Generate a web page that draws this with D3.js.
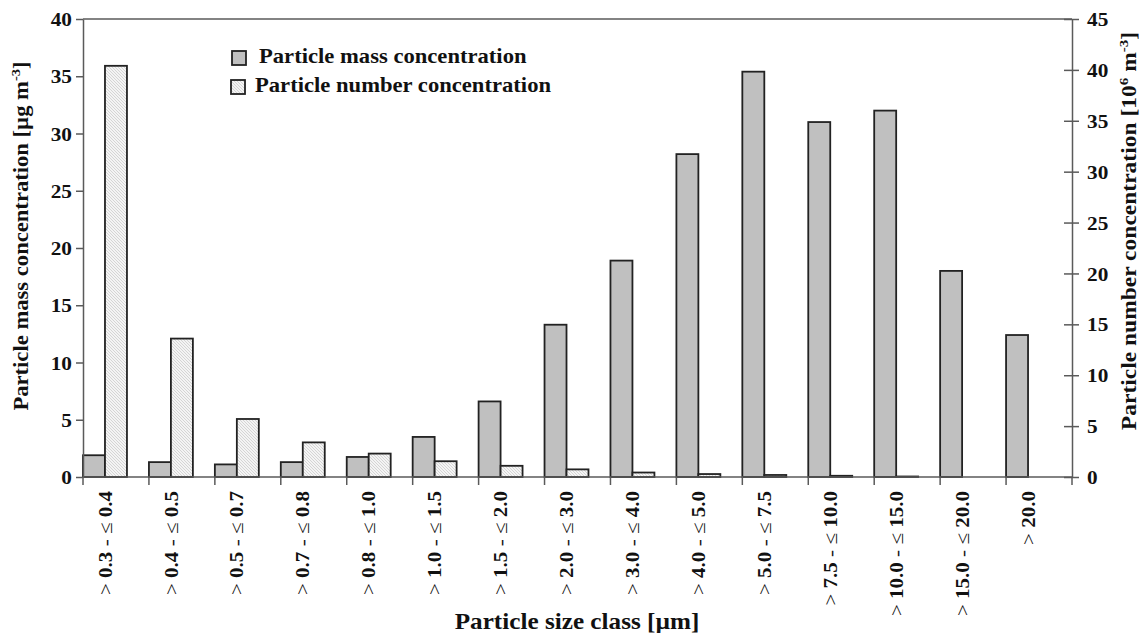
<!DOCTYPE html>
<html>
<head>
<meta charset="utf-8">
<script src="https://cdn.jsdelivr.net/npm/d3@7"></script>
<style>
  html, body { margin: 0; padding: 0; background: #fff; }
  svg { display: block; font-family: "Liberation Serif", "Times New Roman", serif; }
</style>
</head>
<body>
<svg id="chart" width="1143" height="633"></svg>
<script>
// Size classes (µm) and the two measured series
const categories = [
  ["0.3", "0.4"], ["0.4", "0.5"], ["0.5", "0.7"], ["0.7", "0.8"], ["0.8", "1.0"],
  ["1.0", "1.5"], ["1.5", "2.0"], ["2.0", "3.0"], ["3.0", "4.0"], ["4.0", "5.0"],
  ["5.0", "7.5"], ["7.5", "10.0"], ["10.0", "15.0"], ["15.0", "20.0"], ["20.0", null]
];
const massValues   = [1.9, 1.3, 1.1, 1.3, 1.75, 3.5, 6.6, 13.3, 18.9, 28.2, 35.4, 31.0, 32.0, 18.0, 12.4];
const numberValues = [40.4, 13.6, 5.7, 3.4, 2.3, 1.55, 1.1, 0.75, 0.44, 0.29, 0.2, 0.12, 0.05, 0, 0];
const massTicks    = [0, 5, 10, 15, 20, 25, 30, 35, 40];
const numberTicks  = [0, 5, 10, 15, 20, 25, 30, 35, 40, 45];
const seriesNames  = ["Particle mass concentration", "Particle number concentration"];

const svg = d3.select("#chart");
const M = { left: 83, right: 1072, top: 19, bottom: 477 };
const STRETCH = 1.12;         // slight widening of the serif glyphs
const frameColor = "#5a5a5a";
const barStroke = "#222";
const ink = "#111";

const keys = categories.map((c, i) => i);
const x = d3.scaleBand().domain(keys).range([M.left, M.right]).paddingInner(0).paddingOuter(0);
const yMass = d3.scaleLinear().domain([0, 40]).range([M.bottom, M.top]);
const yNum  = d3.scaleLinear().domain([0, 45]).range([M.bottom, M.top]);
const barW = x.bandwidth() / 3;

// Hatch for the number series
const defs = svg.append("defs");
const pat = defs.append("pattern").attr("id", "hatch")
  .attr("patternUnits", "userSpaceOnUse").attr("width", 3).attr("height", 3);
pat.append("rect").attr("width", 3).attr("height", 3).attr("fill", "#f4f4f4");
pat.append("path").attr("d", "M0,0 L3,3 M-1,2 L1,4 M2,-1 L4,1")
  .attr("stroke", "#cdcdcd").attr("stroke-width", 0.8);

// Bars
svg.append("g").selectAll("rect").data(keys).join("rect")
  .attr("x", i => x(i))
  .attr("y", i => yMass(massValues[i]))
  .attr("width", barW)
  .attr("height", i => yMass(0) - yMass(massValues[i]))
  .attr("fill", "#c0c0c0").attr("stroke", barStroke).attr("stroke-width", 1.8);

svg.append("g").selectAll("rect").data(keys.filter(i => numberValues[i] > 0)).join("rect")
  .attr("x", i => x(i) + barW)
  .attr("y", i => yNum(numberValues[i]))
  .attr("width", barW)
  .attr("height", i => yNum(0) - yNum(numberValues[i]))
  .attr("fill", "url(#hatch)").attr("stroke", barStroke).attr("stroke-width", 1.8);

// Frame: top line
svg.append("line").attr("x1", M.left).attr("x2", M.right).attr("y1", M.top).attr("y2", M.top)
  .attr("stroke", frameColor).attr("stroke-width", 1.5);

function styleAxis(g) {
  g.select(".domain").attr("stroke", frameColor).attr("stroke-width", 1.5);
  g.selectAll(".tick line").attr("stroke", frameColor).attr("stroke-width", 1.5);
}

// Left axis
const gL = svg.append("g").attr("transform", `translate(${M.left},0)`)
  .call(d3.axisLeft(yMass).tickValues(massTicks).tickSize(7).tickSizeOuter(0));
styleAxis(gL);
gL.selectAll(".tick text")
  .attr("x", null).attr("dy", "0.35em")
  .attr("transform", `translate(-11,0) scale(${STRETCH},1)`)
  .attr("text-anchor", "end")
  .attr("font-family", "Liberation Serif").attr("font-weight", "bold")
  .attr("font-size", 19).attr("fill", ink);

// Right axis with ticks crossing the line
const gR = svg.append("g").attr("transform", `translate(${M.right},0)`)
  .call(d3.axisRight(yNum).tickValues(numberTicks).tickSize(7).tickSizeOuter(0));
styleAxis(gR);
gR.selectAll(".tick line").attr("x1", -8).attr("x2", 7);
gR.selectAll(".tick text")
  .attr("x", null).attr("dy", "0.35em")
  .attr("transform", `translate(15,0) scale(${STRETCH},1)`)
  .attr("text-anchor", "start")
  .attr("font-family", "Liberation Serif").attr("font-weight", "bold")
  .attr("font-size", 19).attr("fill", ink);

// Bottom axis: ticks at class boundaries
const gB = svg.append("g");
gB.append("line").attr("x1", M.left).attr("x2", M.right).attr("y1", M.bottom).attr("y2", M.bottom)
  .attr("stroke", frameColor).attr("stroke-width", 1.5);
const bounds = keys.map(i => x(i)).concat([M.right]);
gB.selectAll("line.tk").data(bounds).join("line").attr("class", "tk")
  .attr("x1", d => d).attr("x2", d => d).attr("y1", M.bottom).attr("y2", M.bottom + 8)
  .attr("stroke", frameColor).attr("stroke-width", 1.5);

// Rotated class labels
const lab = gB.selectAll("text").data(keys).join("text")
  .attr("transform", i => `translate(${x(i) + barW},${M.bottom + 14}) rotate(-90) scale(${STRETCH},1)`)
  .attr("text-anchor", "end").attr("dy", "0.35em")
  .attr("font-size", 18.8).attr("fill", ink);
lab.each(function(i) {
  const [lo, hi] = categories[i];
  const t = d3.select(this);
  t.append("tspan").attr("font-weight", "normal").text("> ");
  t.append("tspan").attr("font-weight", "bold").text(lo);
  if (hi) {
    t.append("tspan").attr("font-weight", "normal").text(" - \u2264 ");
    t.append("tspan").attr("font-weight", "bold").text(hi);
  }
});

// Axis titles
svg.append("text")
  .attr("transform", `translate(577,629) scale(${STRETCH},1)`)
  .attr("text-anchor", "middle").attr("font-weight", "bold").attr("font-size", 22.5).attr("fill", ink)
  .text("Particle size class [\u00b5m]");

const tL = svg.append("text")
  .attr("transform", `translate(28,236) rotate(-90) scale(${STRETCH},1)`)
  .attr("text-anchor", "middle").attr("font-weight", "bold").attr("font-size", 20.2).attr("fill", ink);
tL.append("tspan").text("Particle mass concentration [\u00b5g m");
tL.append("tspan").attr("font-size", 13).attr("dy", -8).text("-3");
tL.append("tspan").attr("dy", 8).text("]");

const tR = svg.append("text")
  .attr("transform", `translate(1136,231) rotate(-90) scale(${STRETCH},1)`)
  .attr("text-anchor", "middle").attr("font-weight", "bold").attr("font-size", 21).attr("fill", ink);
tR.append("tspan").text("Particle number concentration [10");
tR.append("tspan").attr("font-size", 13.5).attr("dy", -8).text("6");
tR.append("tspan").attr("dy", 8).text(" m");
tR.append("tspan").attr("font-size", 13.5).attr("dy", -8).text("-3");
tR.append("tspan").attr("dy", 8).text("]");

// Legend
const legend = svg.append("g");
const legendRows = [
  { name: seriesNames[0], fill: "#c0c0c0", sx: 232, sy: 51, tx: 259, ty: 63 },
  { name: seriesNames[1], fill: "url(#hatch)", sx: 231, sy: 80, tx: 255, ty: 92 }
];
legendRows.forEach(r => {
  legend.append("rect").attr("x", r.sx).attr("y", r.sy).attr("width", 14).attr("height", 14)
    .attr("fill", r.fill).attr("stroke", barStroke).attr("stroke-width", 1.8);
  legend.append("text")
    .attr("transform", `translate(${r.tx},${r.ty}) scale(${STRETCH},1)`)
    .attr("font-weight", "bold").attr("font-size", 20.2).attr("fill", ink)
    .text(r.name);
});
</script>
</body>
</html>
